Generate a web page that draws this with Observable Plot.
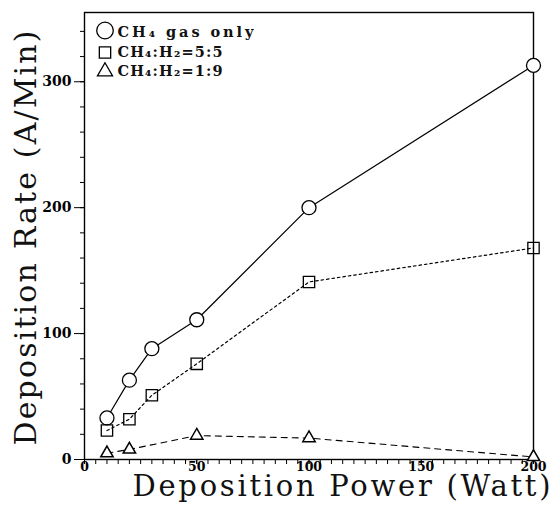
<!DOCTYPE html>
<html><head><meta charset="utf-8">
<script src="https://cdn.jsdelivr.net/npm/d3@7"></script>
<script src="https://cdn.jsdelivr.net/npm/@observablehq/plot@0.6"></script>
<style>body{margin:0;background:#fff}</style>
</head><body><div id="chart"></div>
<script>
// ---- data ----
const seriesNames = ["CH₄ gas only", "CH₄:H₂=5:5", "CH₄:H₂=1:9"];
const powerA = [10, 20, 30, 50, 100, 200];
const rateCH4 = [33, 63, 88, 111, 200, 313];
const powerB = [10, 20, 30, 50, 100, 200];
const rate55 = [23, 32, 51, 76, 141, 168];
const powerC = [10, 20, 50, 100, 200];
const rate19 = [5, 8, 19, 17, 2];
const xTicksMajor = [0, 50, 100, 150, 200];
const yTicksMajor = [0, 100, 200, 300];
const xTitle = "Deposition Power (Watt)";
const yTitle = "Deposition Rate (A/Min)";

const rowsA = powerA.map((p, i) => ({power: p, rate: rateCH4[i]}));
const rowsB = powerB.map((p, i) => ({power: p, rate: rate55[i]}));
const rowsC = powerC.map((p, i) => ({power: p, rate: rate19[i]}));

const serif = "DejaVu Serif";
const symbols = ["circle", "square", "triangle"];
const symR = [7, 6.4, 4.6];
const legR = [8.3, 6.4, 5.6];
const legDy = [18, 40, 59];
const legTextDy = [24, 44, 63];

const legendMarks = [];
seriesNames.forEach((name, i) => {
  legendMarks.push(Plot.dot([name], {frameAnchor: "top-left", dx: 20.5, dy: legDy[i], symbol: symbols[i], r: legR[i], stroke: "black", strokeWidth: 1.3, fill: "white"}));
  legendMarks.push(Plot.text([name], {text: d => d, frameAnchor: "top-left", dx: 33, dy: legTextDy[i], textAnchor: "start", lineAnchor: "bottom", fontSize: 14.5, fontWeight: "bold", fontFamily: serif, fill: "#111"}));
});

const chart = Plot.plot({
  width: 554, height: 514,
  marginLeft: 84, marginRight: 21, marginTop: 12, marginBottom: 55,
  x: {domain: [0, 200]},
  y: {domain: [0, 355]},
  style: {background: "white", color: "black", fontFamily: serif},
  marks: [
    Plot.axisX(d3.range(0, 201, 5), {tickSize: 5, tickFormat: () => "", label: null, strokeWidth: 1}),
    Plot.axisX(xTicksMajor, {tickSize: 5, tickPadding: -2, label: null, fontSize: 12.5, fontWeight: "bold", fontFamily: serif}),
    Plot.axisY(d3.range(0, 341, 20), {tickSize: 4, tickFormat: () => "", label: null}),
    Plot.axisY(yTicksMajor, {tickSize: 10, tickPadding: 3, label: null, fontSize: 14, fontWeight: "bold", fontFamily: serif}),
    Plot.frame({stroke: "black", strokeWidth: 1.4}),
    Plot.line(rowsA, {x: "power", y: "rate", stroke: "black", strokeWidth: 1.2}),
    Plot.line(rowsB, {x: "power", y: "rate", stroke: "black", strokeWidth: 1.2, strokeDasharray: "2.5,3"}),
    Plot.line(rowsC, {x: "power", y: "rate", stroke: "black", strokeWidth: 1.1, strokeDasharray: "6,5"}),
    Plot.dot(rowsA, {x: "power", y: "rate", symbol: "circle", r: symR[0], stroke: "black", strokeWidth: 1.3, fill: "white"}),
    Plot.dot(rowsB, {x: "power", y: "rate", symbol: "square", r: symR[1], stroke: "black", strokeWidth: 1.3, fill: "none"}),
    Plot.dot(rowsC, {x: "power", y: "rate", symbol: "triangle", r: symR[2], stroke: "black", strokeWidth: 1.5, fill: "white"}),
    ...legendMarks,
    Plot.text([xTitle], {text: d => d, frameAnchor: "bottom", dx: 32.5, dy: 36, textAnchor: "middle", lineAnchor: "bottom", fontSize: 29, fontFamily: serif, fill: "#111"}),
    Plot.text([yTitle], {text: d => d, frameAnchor: "left", dx: -49, dy: 2, rotate: -90, textAnchor: "middle", lineAnchor: "bottom", fontSize: 30, fontFamily: serif, fill: "#111"})
  ]
});
document.getElementById("chart").appendChild(chart);

// stretch texts to the widths seen in the reference
const textWidths = {};
textWidths[xTitle] = 418;
textWidths[yTitle] = 415;
textWidths[seriesNames[0]] = 136;
textWidths[seriesNames[1]] = 105;
textWidths[seriesNames[2]] = 105;
d3.select(chart).selectAll("text").each(function() {
  const w = textWidths[this.textContent];
  if (w) { this.setAttribute("textLength", w); this.setAttribute("lengthAdjust", "spacing"); }
});
</script></body></html>
